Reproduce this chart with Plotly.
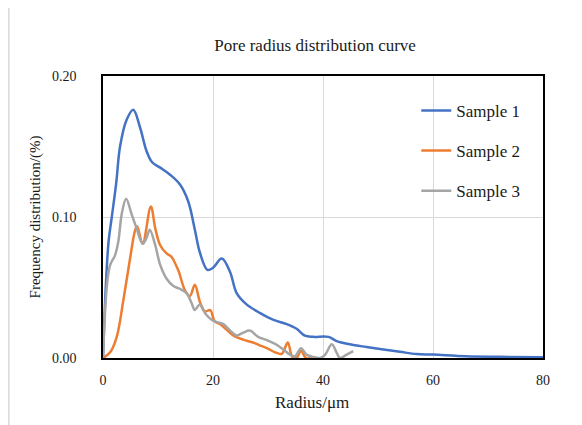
# Importamos las bibliotecas necesarias
import plotly.graph_objs as go

radio_muestra1 = [0, 0.5, 1, 1.6, 2.4, 3.1, 4.3, 5.5, 6.7, 7.9, 8.9, 10.4, 12.2, 14, 15.5, 16.7,
                  17.6, 19, 20, 21.6, 23.1, 24.3, 26.1, 28.5, 31, 33.4, 35.2, 36.7, 38.2, 41,
                  42.5, 44.9, 47.9, 51, 54, 57, 60, 66, 72, 80]
frec_muestra1 = [0, 0.050, 0.082, 0.100, 0.124, 0.150, 0.169, 0.176, 0.164, 0.147, 0.139, 0.135,
                 0.130, 0.123, 0.111, 0.091, 0.075, 0.0625, 0.064, 0.0705, 0.061, 0.046, 0.038,
                 0.032, 0.027, 0.024, 0.0207, 0.0158, 0.015, 0.015, 0.012, 0.0097, 0.0078, 0.006,
                 0.0044, 0.0028, 0.0024, 0.0012, 0.0008, 0.0005]

radio_muestra2 = [0, 1.3, 2.5, 3.7, 4.9, 5.8, 6.2, 7.2, 8.7, 9.5, 10.4, 11.6, 12.4, 13.7, 14.9,
                  15.8, 16.7, 17.6, 18.5, 19.5, 20.3, 21.3, 22.5, 23.7, 25.5, 27.3, 28.5, 29.8,
                  31.3, 32.5, 33.6, 34.4, 35.2, 36.0, 36.9, 38.0]
frec_muestra2 = [0, 0.004, 0.015, 0.041, 0.070, 0.090, 0.0935, 0.081, 0.1075, 0.092, 0.080, 0.074,
                 0.072, 0.062, 0.048, 0.044, 0.052, 0.040, 0.033, 0.034, 0.026, 0.024, 0.020,
                 0.016, 0.013, 0.011, 0.009, 0.007, 0.004, 0.003, 0.011, 0.001, 0.000, 0.005,
                 0.000, 0.000]

radio_muestra3 = [0, 0.7, 1.3, 2.2, 2.8, 3.4, 4.2, 5.2, 6.1, 7.2, 7.9, 8.5, 9.5, 10.4, 11.6, 12.8,
                  14.0, 15.2, 16.1, 16.7, 17.6, 18.7, 19.8, 20.7, 21.9, 23.1, 24.3, 25.5, 26.7,
                  28.2, 29.8, 31.3, 32.8, 34.0, 34.9, 36.0, 37.0, 38.0, 39.5, 40.4, 41.6, 42.5,
                  43.1, 44.3, 45.5]
frec_muestra3 = [0, 0.051, 0.066, 0.073, 0.083, 0.102, 0.113, 0.102, 0.092, 0.081, 0.085, 0.091,
                 0.080, 0.066, 0.056, 0.051, 0.049, 0.046, 0.039, 0.034, 0.038, 0.031, 0.027,
                 0.0255, 0.024, 0.0195, 0.016, 0.018, 0.0195, 0.015, 0.0127, 0.010, 0.006, 0.0024,
                 0.0012, 0.007, 0.0024, 0.001, 0, 0.0024, 0.0097, 0.0036, 0, 0.0024, 0.0049]

fuente = 'Liberation Serif, Times New Roman, serif'
color_texto = '#1a1a1a'

# Creamos un gráfico con Plotly
fig = go.Figure()

# Agregamos las series al gráfico
fig.add_trace(go.Scatter(x=radio_muestra1, y=frec_muestra1, mode='lines', name='Sample 1',
                         legendgroup='1', line=dict(color='#4472C4', width=2.5, shape='spline')))
fig.add_trace(go.Scatter(x=radio_muestra2, y=frec_muestra2, mode='lines', name='Sample 2',
                         legendgroup='2', line=dict(color='#ED7D31', width=2.5, shape='spline')))
fig.add_trace(go.Scatter(x=radio_muestra3, y=frec_muestra3, mode='lines', name='Sample 3',
                         legendgroup='3', line=dict(color='#A5A5A5', width=2.5, shape='spline')))

# Línea gris del borde izquierdo del área del gráfico
fig.add_shape(type='line', xref='paper', yref='paper', x0=-0.214, x1=-0.214, y0=-0.3, y1=1.3,
              line=dict(color='#d9d9d9', width=1.5))

# Título del eje X como anotación (en Excel está algo a la izquierda del centro)
fig.add_annotation(text='Radius/μm', xref='paper', yref='paper', x=0.475, y=-0.157,
                   xanchor='center', yanchor='middle', showarrow=False,
                   font=dict(family=fuente, size=17, color=color_texto))

# Configuramos el diseño del gráfico (la página añade 8 px de margen)
fig.update_layout(
    width=574, height=417,
    margin=dict(l=95, r=39, t=68, b=67),
    paper_bgcolor='white', plot_bgcolor='white',
    font=dict(family=fuente, size=14, color=color_texto),
    title=dict(text='Pore radius distribution curve', x=0.535, xanchor='center',
               y=0.91, yanchor='middle', font=dict(size=17, color=color_texto)),
    xaxis=dict(range=[0, 80], dtick=20, showgrid=True, gridcolor='#d9d9d9', gridwidth=1,
               showline=True, linecolor='black', linewidth=1.5, mirror=True, zeroline=False,
               ticks='', ticklabelstandoff=8),
    yaxis=dict(range=[0, 0.2], dtick=0.1, tickformat='.2f', showgrid=True, gridcolor='#d9d9d9',
               gridwidth=1, showline=True, linecolor='black', linewidth=1.5, mirror=True,
               zeroline=False, ticks='', ticklabelstandoff=22,
               title=dict(text='Frequency distribution/(%)', font=dict(size=15), standoff=8)),
    legend=dict(x=0.712, y=0.94, xanchor='left', yanchor='top', bgcolor='rgba(0,0,0,0)',
                font=dict(size=17, color=color_texto), tracegroupgap=15),
    showlegend=True,
)

# Guardamos el gráfico
fig.write_html('out.html')
